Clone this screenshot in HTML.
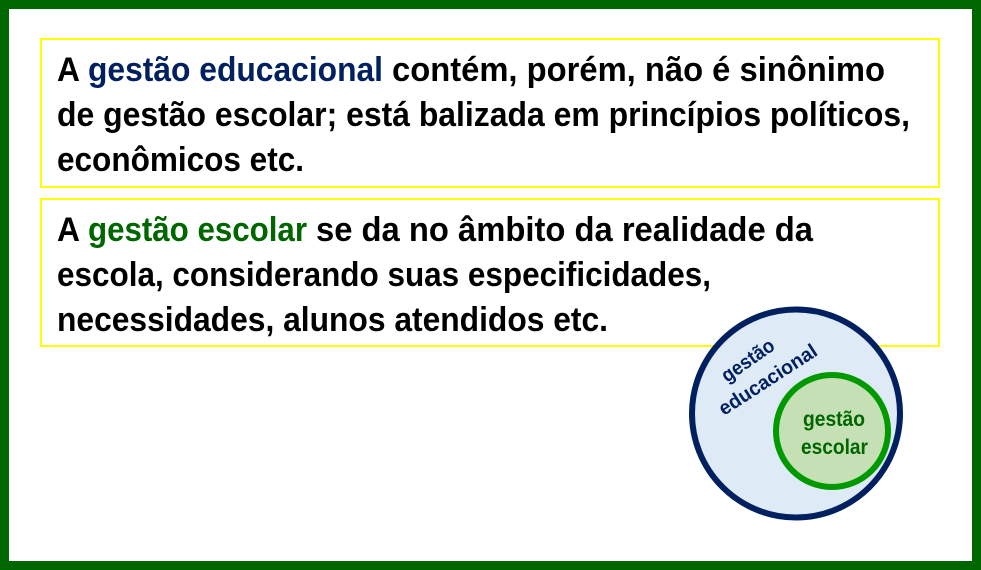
<!DOCTYPE html>
<html lang="pt">
<head>
<meta charset="utf-8">
<title>Gestão educacional e gestão escolar</title>
<style>
html,body{margin:0;padding:0;background:#fff}
svg{display:block}
text{font-family:"Liberation Sans",sans-serif;font-weight:700;white-space:pre}
.m{font-size:34px;fill:#000}
.b{fill:#002060}
.g{fill:#006600}
</style>
</head>
<body>
<svg width="981" height="570" viewBox="0 0 981 570" xmlns="http://www.w3.org/2000/svg">
<rect x="4.5" y="4.5" width="972" height="561" fill="#fff" stroke="#006600" stroke-width="9"/>
<rect x="41" y="39" width="898" height="148" fill="#fff" stroke="#ffff00" stroke-width="2"/>
<rect x="41" y="199" width="898" height="147" fill="#fff" stroke="#ffff00" stroke-width="2"/>

<text class="m" x="57" y="81" textLength="23" lengthAdjust="spacingAndGlyphs">A</text>
<text class="m b" x="88" y="81" textLength="295" lengthAdjust="spacingAndGlyphs">gestão educacional</text>
<text class="m" x="392" y="81" textLength="493" lengthAdjust="spacingAndGlyphs">contém, porém, não é sinônimo</text>
<text class="m" x="57" y="126" textLength="853" lengthAdjust="spacingAndGlyphs">de gestão escolar; está balizada em princípios políticos,</text>
<text class="m" x="57" y="171" textLength="247" lengthAdjust="spacingAndGlyphs">econômicos etc.</text>

<text class="m" x="57" y="241" textLength="23" lengthAdjust="spacingAndGlyphs">A</text>
<text class="m g" x="88" y="241" textLength="219" lengthAdjust="spacingAndGlyphs">gestão escolar</text>
<text class="m" x="316" y="241" textLength="497" lengthAdjust="spacingAndGlyphs">se da no âmbito da realidade da</text>
<text class="m" x="57" y="286" textLength="654" lengthAdjust="spacingAndGlyphs">escola, considerando suas especificidades,</text>
<text class="m" x="57" y="331" textLength="551" lengthAdjust="spacingAndGlyphs">necessidades, alunos atendidos etc.</text>

<circle cx="796" cy="413.5" r="104" fill="#deebf7" stroke="#002060" stroke-width="6"/>
<circle cx="832" cy="431" r="56" fill="#c5e0b4" stroke="#009900" stroke-width="6"/>

<text class="b" font-size="20" transform="translate(727 383) rotate(-35)" textLength="60" lengthAdjust="spacingAndGlyphs">gestão</text>
<text class="b" font-size="20" transform="translate(724 416) rotate(-33)" textLength="113" lengthAdjust="spacingAndGlyphs">educacional</text>
<text class="g" font-size="21" x="803" y="426" textLength="62" lengthAdjust="spacingAndGlyphs">gestão</text>
<text class="g" font-size="21" x="801" y="454" textLength="67" lengthAdjust="spacingAndGlyphs">escolar</text>
</svg>
</body>
</html>
